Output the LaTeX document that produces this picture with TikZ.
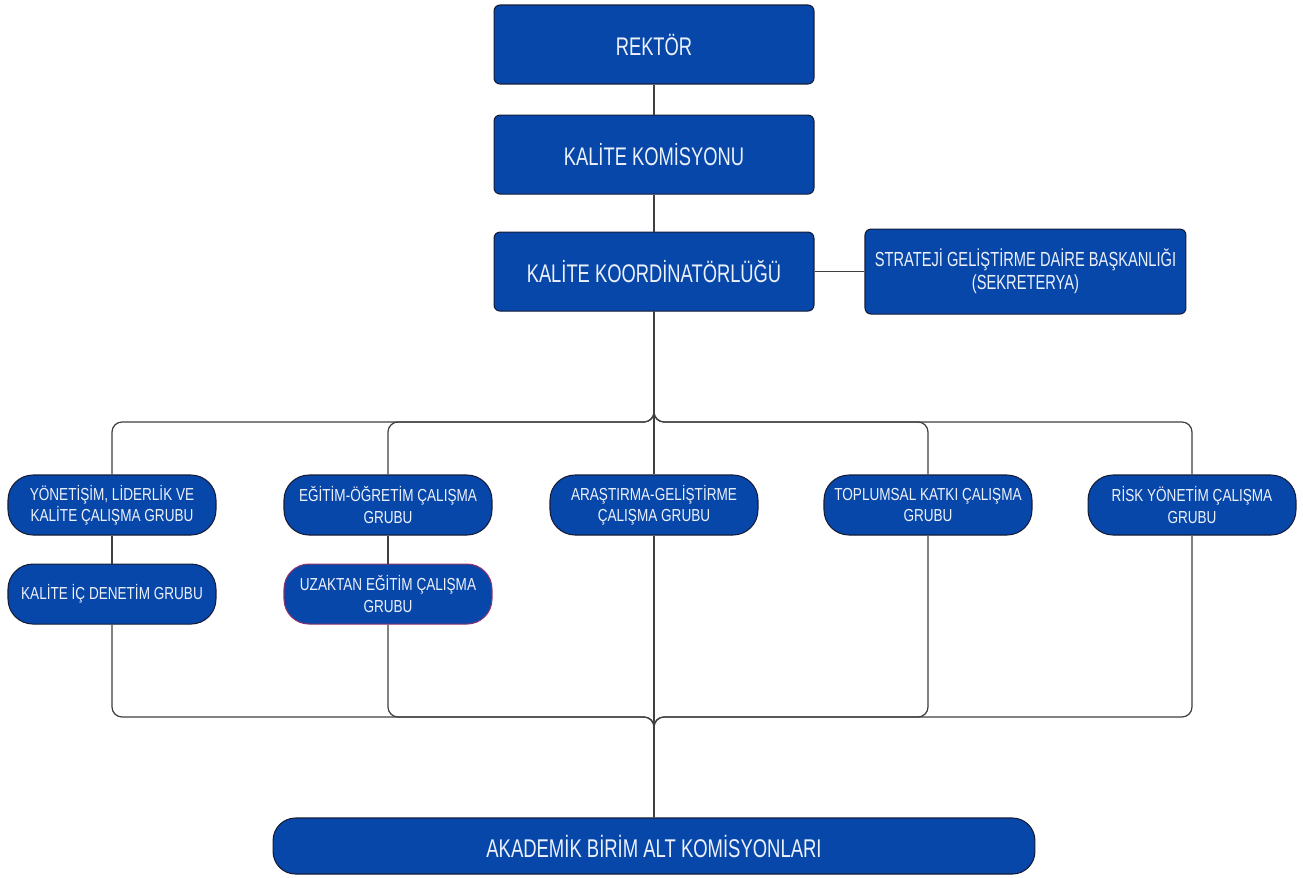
\documentclass[tikz,border=0pt]{standalone}
\usepackage{fontspec}
\usepackage{xcolor}
\usepackage{tikz}
\usetikzlibrary{positioning}
\newfontfamily\narrowfont{Liberation Sans}[FakeStretch=0.78]
\newfontfamily\tallfont{Liberation Sans}[FakeStretch=0.72]
\definecolor{boxblue}{RGB}{8,71,170}
\definecolor{boxedge}{RGB}{20,28,55}
\definecolor{boxtext}{RGB}{236,241,250}
\definecolor{edgepurple}{RGB}{140,50,110}

\begin{document}
\begin{tikzpicture}[x=0.02cm,y=-0.02cm]
      \tikzstyle{line} = [draw=black!75, line width=0.7pt, rounded corners=0.2cm]
      \tikzstyle{top box} = [rectangle, rounded corners=0.12cm, fill=boxblue, draw=boxedge, line width=0.6pt,
         text=boxtext, align=center, minimum width=6.4cm, minimum height=1.58cm, font=\tallfont\fontsize{14.5}{17}\selectfont]
      \tikzstyle{group node} = [rectangle, rounded corners=0.5cm, fill=boxblue, draw=boxedge, line width=0.6pt,
         text=boxtext, align=center, minimum width=4.16cm, minimum height=1.2cm, inner sep=1pt,
         font=\narrowfont\fontsize{9.9}{12}\selectfont]
      \useasboundingbox[fill=white] (0,0) rectangle (1303,877);
      %nodes
      \node[top box]          	(rektor) 	at (654,44.5)				{REKTÖR};
      \node[top box]          	(komisyon) 	[below=0.6cm of rektor] 	{KALİTE KOMİSYONU};
      \node[top box]          	(koord) 	[below=0.74cm of komisyon] 	{KALİTE KOORDİNATÖRLÜĞÜ};
      \node[top box, minimum width=6.42cm, minimum height=1.7cm, font=\tallfont\fontsize{11.6}{13}\selectfont]
                              	(strateji) 	[right=1cm of koord] 	{STRATEJİ GELİŞTİRME DAİRE BAŞKANLIĞI\\(SEKRETERYA)};
      \node[group node]       	(yonetisim) 	at (112,505) 	{YÖNETİŞİM, LİDERLİK VE\\KALİTE ÇALIŞMA GRUBU};
      \node[group node]       	(egitim) 	at (388,505) 	{EĞİTİM-ÖĞRETİM ÇALIŞMA\\GRUBU};
      \node[group node]       	(arastirma) 	at (654,505) 	{ARAŞTIRMA-GELİŞTİRME\\ÇALIŞMA GRUBU};
      \node[group node]       	(toplumsal) 	at (928,505) 	{TOPLUMSAL KATKI ÇALIŞMA\\GRUBU};
      \node[group node]       	(risk) 	at (1192,505) 	{RİSK YÖNETİM ÇALIŞMA\\GRUBU};
      \node[group node]       	(icdenetim) 	[below=0.56cm of yonetisim] 	{KALİTE İÇ DENETİM GRUBU};
      \node[group node, draw=edgepurple] 	(uzaktan) 	[below=0.56cm of egitim] 	{UZAKTAN EĞİTİM ÇALIŞMA\\GRUBU};
      \node[top box, rounded corners=0.45cm, minimum width=15.24cm, minimum height=1.12cm, font=\tallfont\fontsize{14.6}{17}\selectfont]
                              	(akademik) 	at (654,846) 	{AKADEMİK BİRİM ALT KOMİSYONLARI};
      \coordinate (split) at (654,422);
      \coordinate (merge) at (654,717);

      %lines
      \path [line] (rektor) -- (komisyon);
      \path [line] (komisyon) -- (koord);
      \path [line] (koord) -- (strateji);
      \foreach \grp in {yonetisim, egitim, toplumsal, risk}
         \path [line] (koord.south) |- (\grp |- split) -- (\grp.north);
      \path [line] (koord.south) -- (arastirma.north);
      \path [line] (yonetisim) -- (icdenetim);
      \path [line] (egitim) -- (uzaktan);
      \foreach \grp in {icdenetim, uzaktan, toplumsal, risk}
         \path [line] (\grp.south) |- (merge) -- (akademik.north);
      \path [line] (arastirma.south) -- (akademik.north);
\end{tikzpicture}
\end{document}
